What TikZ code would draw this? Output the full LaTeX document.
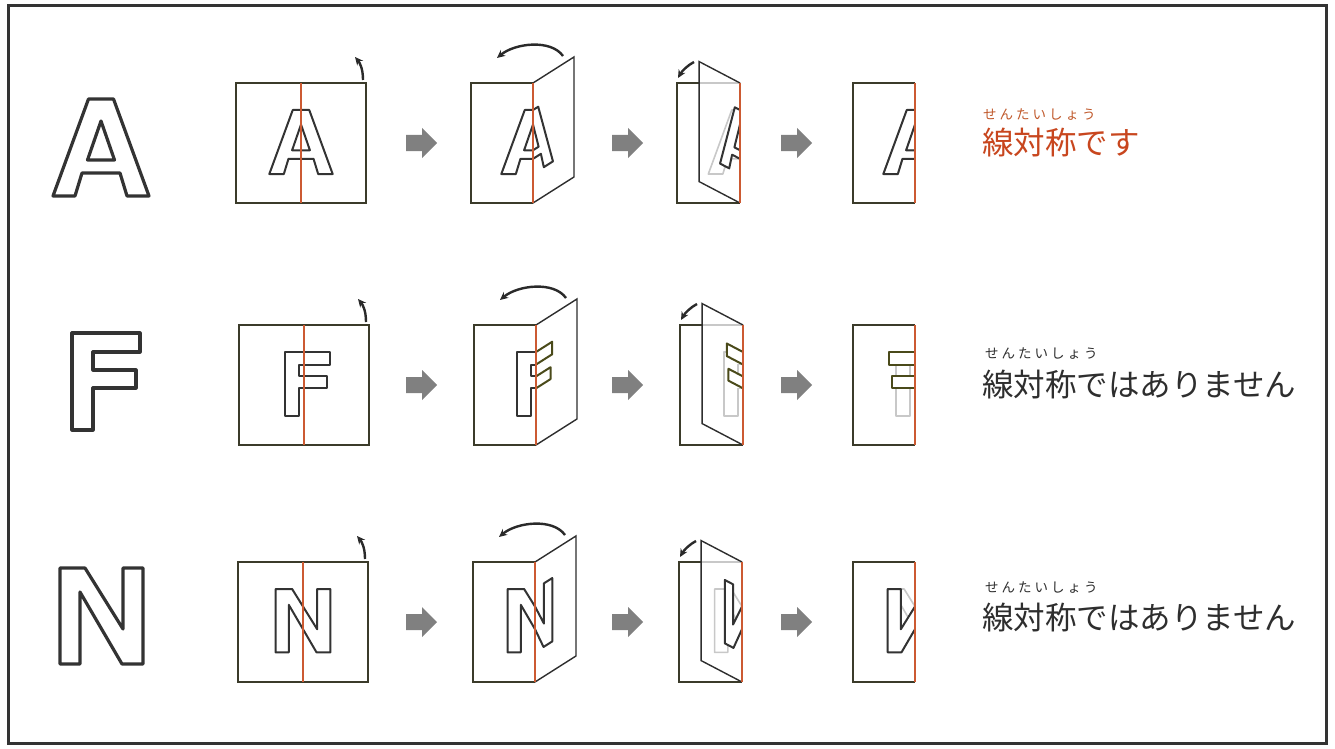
\documentclass[tikz,border=0pt]{standalone}
\usepackage{fontspec}
\newfontfamily\jp{Noto Sans CJK JP}
\newfontfamily\jpruby[LetterSpace=22]{Noto Sans CJK JP}
\usetikzlibrary{arrows.meta}
\definecolor{letc}{HTML}{333333}
\definecolor{boxc}{HTML}{3B3B2A}
\definecolor{foldc}{HTML}{CC5A32}
\definecolor{ghostc}{HTML}{C8C8C8}
\definecolor{flapc}{HTML}{2E2E2E}
\definecolor{arrc}{HTML}{2A2A2A}
\definecolor{grayarr}{HTML}{808080}
\definecolor{textred}{HTML}{C8461E}
\definecolor{rubyred}{HTML}{C0582A}
\definecolor{olivec}{HTML}{4A4A1A}
\definecolor{textdark}{HTML}{2E2E2E}
\newcommand\LetA{(-12.5,0) -- (12.5,0) -- (48,97) -- (26,97) -- (19,74) -- (-19,74) -- (-26,97) -- (-48,97) -- cycle (0,22) -- (13.5,61) -- (-13.5,61) -- cycle}
\newcommand\LetF{(-29,0) -- (39,0) -- (39,19) -- (-8,19) -- (-8,37) -- (35,37) -- (35,55) -- (-8,55) -- (-8,97) -- (-29,97) -- cycle}
\newcommand\LetN{(-41.5,0) -- (-16.5,0) -- (21.5,61) -- (21.5,0) -- (41.5,0) -- (41.5,96) -- (20.5,96) -- (-21.5,24) -- (-21.5,96) -- (-41.5,96) -- cycle}
\tikzset{
  boxline/.style={draw=boxc, line width=1.3},
  small/.style={draw=letc, line width=2, line join=round},
  big/.style={draw=letc, line width=3.2, line join=round},
  foldline/.style={draw=foldc, line width=1.3},
  ghost/.style={draw=ghostc, line width=1.6, line join=round},
  flapline/.style={draw=flapc, line width=1.4},
  turn/.style={draw=arrc, line width=2.4, -{Stealth[length=8,width=7.5]}},
  garrow/.style={fill=grayarr},
}
\newcommand\garrowat[2]{%
  \fill[garrow] (#1,#2-8) -- (#1+16,#2-8) -- (#1+16,#2-15) -- (#1+31,#2) -- (#1+16,#2+15) -- (#1+16,#2+8) -- (#1,#2+8) -- cycle;}
\newcommand\panelrow[4]{%
  \expandafter\let\expandafter\curletter\csname Let#1\endcsname
  % panel 1
  \begin{scope}[shift={(304+#3,#2)}]
    \draw[boxline] (-65,0) rectangle (65,120);
    \begin{scope}[shift={(0,27)},scale=0.66]
      \draw[small] \curletter;
    \end{scope}
    \draw[foldline] (0,0) -- (0,120);
    \draw[turn] (62,-3) .. controls (62,-14) and (59,-20) .. (54,-26);
  \end{scope}
  % panel 2
  \begin{scope}[shift={(536+#3,#2)}]
    \draw[boxline] (0,0) -- (-62,0) -- (-62,120) -- (0,120);
    \begin{scope}[shift={(0,27)},scale=0.66]
      \clip (-100,-50) rectangle (0,150);
      \draw[small] \curletter;
    \end{scope}
    \begin{scope}[cm={0.63,0.4,0,1,(0,0)}]
      \draw[flapline] (0,0) -- (65,0) -- (65,120) -- (0,120);
      \begin{scope}[shift={(0,27)},scale=0.66]
        \clip (0,-50) rectangle (100,150);
        \draw[small,draw=#4] \curletter;
      \end{scope}
    \end{scope}
    \draw[foldline] (0,0) -- (0,120);
    \draw[turn] (30,-27) .. controls (18,-44) and (-18,-40) .. (-36,-25);
  \end{scope}
  % panel 3
  \begin{scope}[shift={(743+#3,#2)}]
    \begin{scope}[shift={(0,27)},scale=0.66]
      \clip (-100,-50) rectangle (0,150);
      \draw[ghost] \curletter;
    \end{scope}
    \draw[ghost,line width=1.2] (-41,0) -- (0,0);
    \draw[boxline] (-41,0) -- (-63,0) -- (-63,120) -- (0,120);
    \begin{scope}[cm={-0.63,0.33,0,1,(0,0)}]
      \draw[flapline] (0,0) -- (65,0) -- (65,120) -- (0,120);
      \begin{scope}[shift={(0,27)},scale=0.66]
        \clip (0,-50) rectangle (100,150);
        \draw[small,draw=#4,fill=white,even odd rule] \curletter;
      \end{scope}
    \end{scope}
    \draw[foldline] (0,0) -- (0,120);
    \draw[turn] (-46,-21) .. controls (-52,-18) and (-58,-12) .. (-62,-5);
  \end{scope}
  % panel 4
  \begin{scope}[shift={(915,#2)}]
    \begin{scope}[shift={(0,27)},scale=0.66]
      \begin{scope}
        \clip (-100,-50) rectangle (0,150);
        \draw[ghost] \curletter;
      \end{scope}
      \begin{scope}[xscale=-1]
        \clip (0,-50) rectangle (100,150);
        \draw[small,draw=#4,fill=white,even odd rule] \curletter;
      \end{scope}
    \end{scope}
    \draw[boxline] (0,0) -- (-62,0) -- (-62,120) -- (0,120);
    \draw[foldline] (0,0) -- (0,120);
  \end{scope}
  % gray arrows
  \garrowat{406}{#2+60}
  \garrowat{612}{#2+60}
  \garrowat{781}{#2+60}
}
\begin{document}
\begin{tikzpicture}[x=1pt,y=-1pt]
  \useasboundingbox (0,0) rectangle (1335,749);
  \fill[white] (0,0) rectangle (1335,749);
  \draw[line width=3, draw=letc] (8.5,5.5) rectangle (1326.5,743.5);
  % big letters
  \begin{scope}[shift={(101,99)}] \draw[big,even odd rule] \LetA; \end{scope}
  \begin{scope}[shift={(101,333)}] \draw[big] \LetF; \end{scope}
  \begin{scope}[shift={(101.5,568)}] \draw[big] \LetN; \end{scope}
  % rows
  \panelrow{A}{83}{-3}{letc}
  \panelrow{F}{325}{0}{olivec}
  \panelrow{N}{562}{-1}{letc}
  % texts
  \node[anchor=west, inner sep=0, text=rubyred, font=\jpruby\fontsize{13.5}{14}\selectfont] (rubyA) at (983,115) {せんたいしょう};
  \node[anchor=west, inner sep=0, text=textred, font=\jp\fontsize{31.5}{32}\selectfont] (textA) at (982,143) {線対称です};
  \node[anchor=west, inner sep=0, text=textdark, font=\jpruby\fontsize{13.5}{14}\selectfont] (rubyF) at (985,354) {せんたいしょう};
  \node[anchor=west, inner sep=0, text=textdark, font=\jp\fontsize{31.5}{32}\selectfont] (textF) at (982,385) {線対称ではありません};
  \node[anchor=west, inner sep=0, text=textdark, font=\jpruby\fontsize{13.5}{14}\selectfont] (rubyN) at (985,588) {せんたいしょう};
  \node[anchor=west, inner sep=0, text=textdark, font=\jp\fontsize{31.5}{32}\selectfont] (textN) at (982,618) {線対称ではありません};
\end{tikzpicture}
\end{document}
